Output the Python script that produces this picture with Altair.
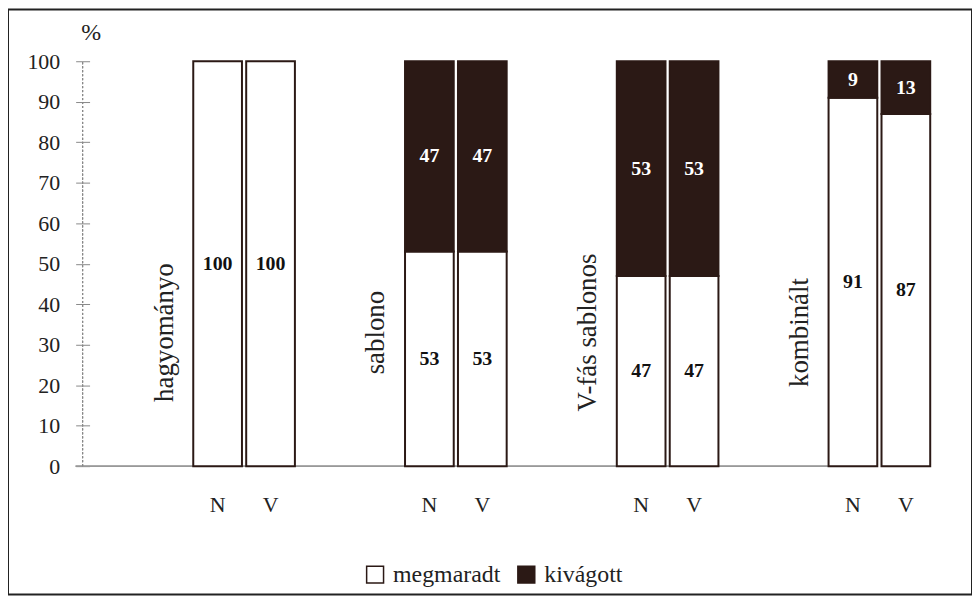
import altair as alt
import pandas as pd

groups = ["hagyományo", "sablono", "V-fás sablonos", "kombinált"]
variants = ["N", "V"]
megmaradt = [100, 100, 53, 53, 47, 47, 91, 87]
kivagott = [0, 0, 47, 47, 53, 53, 9, 13]
series = ["megmaradt", "kivágott"]
y_ticks = [0, 10, 20, 30, 40, 50, 60, 70, 80, 90, 100]

DARK = "#2b1915"
FONT = "Liberation Serif"

# x slots: label slot, N, V, gap for each group
slots = []
for i, g in enumerate(groups):
    slots += [f"{g}|", f"{g}|N", f"{g}|V"]
    if i < len(groups) - 1:
        slots.append(f"{g}|gap")

rows = []
k = 0
for g in groups:
    for v in variants:
        m, c = megmaradt[k], kivagott[k]
        rows.append(dict(slot=f"{g}|{v}", status=series[0], start=0, end=m, value=m))
        if c > 0:
            rows.append(dict(slot=f"{g}|{v}", status=series[1], start=m, end=m + c, value=c))
        k += 1
df = pd.DataFrame(rows)
lab = pd.DataFrame({"slot": [f"{g}|" for g in groups], "label": groups})

xscale = alt.Scale(domain=slots, paddingInner=0.08, paddingOuter=0, range=[133, 927])
yscale = alt.Scale(domain=[-31.7, 112.8], nice=False, zero=False)

xaxis = alt.Axis(
    title=None, domain=False, ticks=False, labelAngle=0, offset=-100, labelPadding=0,
    labelFont=FONT, labelFontSize=22, labelColor="#222",
    labelExpr="indexof(['N','V'], split(datum.value,'|')[1]) >= 0 ? split(datum.value,'|')[1] : ''",
)
yaxis = alt.Axis(
    title="%", titleAngle=0, titleX=1, titleY=23, titleAlign="center", titleBaseline="middle",
    titleFont=FONT, titleFontSize=24, titleFontWeight="normal", titleColor="#222",
    values=y_ticks, domain=False, offset=-82, tickSize=14, tickColor="#888", tickWidth=1,
    labelPadding=16, labelFont=FONT, labelFontSize=22, labelColor="#222", grid=False,
)

bars = alt.Chart(df).mark_bar(stroke=DARK, strokeWidth=2).encode(
    x=alt.X("slot:N", scale=xscale, axis=xaxis),
    y=alt.Y("start:Q", scale=yscale, axis=yaxis),
    y2="end:Q",
    color=alt.Color(
        "status:N",
        scale=alt.Scale(domain=series, range=["#ffffff", DARK]),
        legend=alt.Legend(
            title=None, orient="none", legendX=357, legendY=556, direction="horizontal",
            symbolType="square", symbolSize=289, symbolStrokeColor=DARK, symbolStrokeWidth=1.5,
            symbolOpacity=1, labelFont=FONT, labelFontSize=24, labelColor="#222",
            labelOffset=6, columnPadding=14,
        ),
    ),
)

values = alt.Chart(df).transform_calculate(
    mid="(datum.start + datum.end) / 2"
).mark_text(font=FONT, fontSize=20, fontWeight="bold", baseline="middle").encode(
    x=alt.X("slot:N", scale=xscale, axis=xaxis),
    y=alt.Y("mid:Q", scale=yscale, axis=yaxis),
    text="value:Q",
    color=alt.condition("datum.status == 'kivágott'", alt.value("white"), alt.value("#111")),
)

glabels = alt.Chart(lab).mark_text(
    font=FONT, fontSize=27, angle=270, align="center", baseline="middle", color="#222"
).encode(
    x=alt.X("slot:N", scale=xscale, axis=xaxis),
    y=alt.datum(33),
    text="label:N",
)

axis_line = alt.Chart(lab).mark_rule(strokeDash=[2, 2], color="#888", strokeWidth=1).encode(
    x=alt.value(75), y=alt.datum(0), y2=alt.datum(100)
)
base_line = alt.Chart(lab).mark_rule(color="#999", strokeWidth=1).encode(
    x=alt.value(68), x2=alt.value(826), y=alt.datum(0)
)

chart = alt.layer(base_line, axis_line, bars, values, glabels).properties(
    width=969, height=588, autosize=alt.AutoSizeParams(type="none"), padding=0,
    background="white",
).configure_view(
    stroke="#222", strokeWidth=2
).configure_legend(
    labelFont=FONT, labelFontSize=24, labelColor="#222"
)

chart.save("out.html", embed_options={"renderer": "svg", "actions": False})
